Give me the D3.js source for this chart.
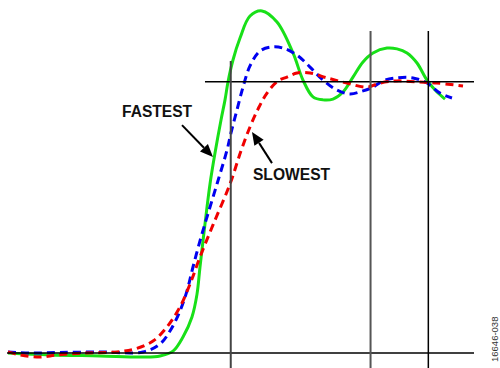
<!DOCTYPE html>
<html>
<head>
<meta charset="utf-8">
<script src="https://cdn.jsdelivr.net/npm/d3@7"></script>
<style>
  html, body { margin: 0; padding: 0; background: #fff; }
  svg { display: block; }
</style>
</head>
<body>
<svg id="chart" width="500" height="368"></svg>
<script>
// ---- data (time in arbitrary units, output normalized: 0 = initial, 1 = final) ----
const fastestT = [0, 9.01, 19.74, 28.97, 32.62, 35.41, 37.55, 39.48, 40.56, 41.20, 42.27, 43.35, 44.42, 45.71, 46.57, 47.21, 48.28, 49.79, 51.93, 54.51, 57.72, 61.16, 63.30, 65.45, 67.60, 69.74, 71.89, 74.03, 76.18, 78.33, 81.33, 83.48, 85.62, 87.77, 89.91, 92.06, 93.78];
const fastestV = [0, -0.007, -0.011, -0.015, -0.011, 0.007, 0.059, 0.133, 0.217, 0.317, 0.475, 0.623, 0.737, 0.859, 0.933, 0.999, 1.080, 1.161, 1.242, 1.261, 1.220, 1.106, 1.006, 0.944, 0.933, 0.936, 0.962, 1.017, 1.073, 1.106, 1.124, 1.121, 1.106, 1.069, 1.006, 0.962, 0.936];

const middleT = [0, 4.72, 11.16, 19.74, 28.97, 32.62, 34.76, 36.91, 38.41, 39.70, 41.20, 42.70, 44.85, 47.00, 47.85, 49.14, 50.43, 51.93, 54.08, 56.65, 59.01, 62.02, 64.81, 67.60, 70.60, 73.39, 76.18, 78.33, 80.47, 83.48, 86.91, 89.91, 92.70, 95.28];
const middleV = [0.004, 0, 0.002, 0.004, 0.004, 0.033, 0.081, 0.155, 0.229, 0.317, 0.413, 0.501, 0.623, 0.748, 0.811, 0.896, 0.980, 1.058, 1.113, 1.128, 1.124, 1.098, 1.054, 1.006, 0.969, 0.955, 0.966, 0.980, 1.003, 1.014, 1.014, 0.995, 0.958, 0.940];

const slowestT = [0, 2.58, 6.87, 10.52, 16.09, 23.39, 27.25, 31.12, 34.12, 36.91, 39.06, 41.20, 43.99, 47.64, 50.00, 51.93, 53.65, 55.58, 57.94, 59.87, 62.02, 64.81, 68.45, 72.75, 77.04, 79.83, 83.48, 87.77, 92.06, 97.64];
const slowestV = [0.004, -0.007, -0.015, -0.007, 0, 0.004, 0.015, 0.044, 0.096, 0.170, 0.254, 0.354, 0.472, 0.623, 0.745, 0.833, 0.899, 0.958, 1.003, 1.017, 1.032, 1.032, 1.014, 0.995, 0.980, 0.995, 1.003, 0.999, 0.995, 0.984];

// reference lines
const markerTimes = [47.8, 77.8, 90.2];
const markerTops = [1.076, 1.187, 1.187];
const levels = [0, 1];
const levelStarts = [-0.2, 42.27];

// annotations
const labels = ["FASTEST", "SLOWEST"];
const labelT = [24.46, 52.57];
const labelV = [0.870, 0.638];
const arrowFromT = [37.34, 56.65];
const arrowFromV = [0.840, 0.700];
const arrowToT = [43.99, 52.36];
const arrowToV = [0.722, 0.815];

const docId = "16646-038";

// ---- drawing ----
const W = 500, H = 368;
const svg = d3.select("#chart");
const x = d3.scaleLinear().domain([0, 100]).range([8, 474]);
const y = d3.scaleLinear().domain([0, 1]).range([353, 81.7]);

const line = d3.line()
  .x(d => x(d[0])).y(d => y(d[1]))
  .curve(d3.curveCatmullRom.alpha(0.5));

const series = [
  { t: fastestT, v: fastestV, color: "#18e018", dash: null },
  { t: middleT, v: middleV, color: "#0000f0", dash: "8,5" },
  { t: slowestT, v: slowestV, color: "#f00000", dash: "8,5" }
];

const gCurves = svg.append("g");
series.forEach(s => {
  gCurves.append("path")
    .datum(s.t.map((t, i) => [t, s.v[i]]))
    .attr("d", line)
    .attr("fill", "none")
    .attr("stroke", s.color)
    .attr("stroke-width", 3)
    .attr("stroke-dasharray", s.dash)
    .attr("stroke-linecap", "butt")
    .attr("stroke-linejoin", "round");
});

// grid / reference lines
const gGrid = svg.append("g");
levels.forEach((lv, i) => {
  gGrid.append("line")
    .attr("x1", x(levelStarts[i])).attr("x2", x(100))
    .attr("y1", y(lv)).attr("y2", y(lv))
    .attr("stroke", "#000").attr("stroke-width", 1.5);
});
const markerColors = ["#444", "#555", "#000"];
const markerWidths = [2, 2, 1.5];
markerTimes.forEach((t, i) => {
  gGrid.append("line")
    .attr("x1", x(t)).attr("x2", x(t))
    .attr("y1", y(markerTops[i])).attr("y2", H)
    .attr("stroke", markerColors[i]).attr("stroke-width", markerWidths[i]);
});

// annotations
const gAnn = svg.append("g");
labels.forEach((lab, i) => {
  gAnn.append("text")
    .attr("x", x(labelT[i])).attr("y", y(labelV[i]))
    .attr("font-family", "'Liberation Sans', Arial, sans-serif")
    .attr("font-weight", "bold")
    .attr("font-size", "15.6px")
    .attr("fill", "#111")
    .text(lab);

  const x1 = x(arrowFromT[i]), y1 = y(arrowFromV[i]);
  const x2 = x(arrowToT[i]), y2 = y(arrowToV[i]);
  const ang = Math.atan2(y2 - y1, x2 - x1);
  const hl = 13, hw = 5.5;
  const bx = x2 - hl * Math.cos(ang), by = y2 - hl * Math.sin(ang);
  gAnn.append("line")
    .attr("x1", x1).attr("y1", y1).attr("x2", bx).attr("y2", by)
    .attr("stroke", "#000").attr("stroke-width", 2);
  const px = -Math.sin(ang) * hw, py = Math.cos(ang) * hw;
  gAnn.append("path")
    .attr("d", `M${x2},${y2}L${bx + px},${by + py}L${bx - px},${by - py}Z`)
    .attr("fill", "#000");
});

svg.append("text")
  .attr("transform", `translate(498,362) rotate(-90)`)
  .attr("font-family", "'Liberation Sans', Arial, sans-serif")
  .attr("font-size", "9.5px")
  .attr("fill", "#333")
  .text(docId);
</script>
</body>
</html>
